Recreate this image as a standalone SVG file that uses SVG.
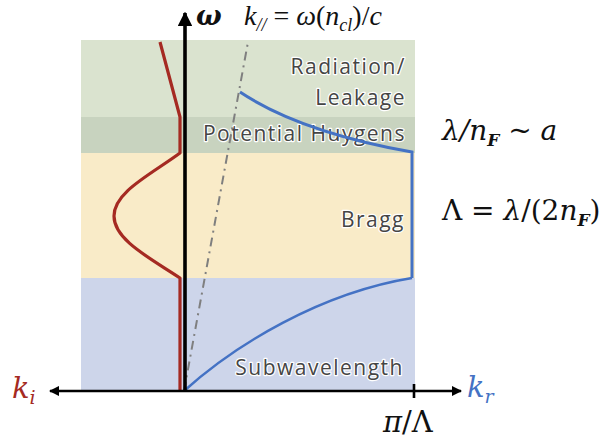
<svg xmlns="http://www.w3.org/2000/svg" width="610" height="444" viewBox="0 0 610 444">
<defs>
<style>
.lbl{font-family:"Open Sans","Liberation Sans",sans-serif;font-size:21px;letter-spacing:1.5px;fill:#454545;stroke:#ffffff;stroke-width:2.4px;paint-order:stroke;stroke-linejoin:round}
.math{font-family:"DejaVu Serif","Liberation Serif",serif;font-style:italic;fill:#111}
.up{font-style:normal}
</style>
<marker id="ah" viewBox="0 0 10 10" refX="9" refY="5" markerWidth="4" markerHeight="4" orient="auto-start-reverse" markerUnits="strokeWidth">
<path d="M0,0 L10,5 L0,10 z" fill="#000"/>
</marker>
</defs>
<rect width="610" height="444" fill="#fff"/>
<g id="bands">
<rect id="band-radiation" x="81" y="40" width="334" height="77" fill="#dae3cf"/>
<rect id="band-huygens" x="81" y="117" width="334" height="36" fill="#c8d3bf"/>
<rect id="band-bragg" x="81" y="153" width="334" height="125" fill="#f9ebc8"/>
<rect id="band-sub" x="81" y="278" width="334" height="112" fill="#cdd5ea"/>
</g>
<g id="labels">
<text class="lbl" x="406" y="74" text-anchor="end">Radiation/</text>
<text class="lbl" x="406" y="105" text-anchor="end">Leakage</text>
<text class="lbl" x="406" y="141" text-anchor="end">Potential Huygens</text>
<text class="lbl" x="405" y="227" text-anchor="end">Bragg</text>
<text class="lbl" x="404" y="375" text-anchor="end">Subwavelength</text>
</g>
<g id="connectors" fill="none">
<path id="light-line" d="M184,391 L248,42" stroke="#7f7f7f" stroke-width="2" stroke-dasharray="9,5,2,5"/>
<path id="ki-curve" d="M160,42 L180,117 L180,153 C150,175 114,192 114,216 C114,240 150,258 180,278 L180,391" stroke="#a52a22" stroke-width="3.2" stroke-linejoin="round"/>
<path id="kr-top" d="M240,92 Q300,132 412,152 L412,278" stroke="#4472c4" stroke-width="3"/>
<path id="kr-bottom" d="M184,391 C235,345 320,293 412,278" stroke="#4472c4" stroke-width="2.5"/>
<line id="omega-axis" x1="185" y1="391" x2="185" y2="13" stroke="#000" stroke-width="3.6" marker-end="url(#ah)"/>
<line id="kr-axis" x1="185" y1="391" x2="461" y2="391" stroke="#000" stroke-width="2.6" marker-end="url(#ah)"/>
<line id="ki-axis" x1="185" y1="391" x2="50" y2="391" stroke="#000" stroke-width="2.6" marker-end="url(#ah)"/>
<line id="tick" x1="414" y1="384" x2="414" y2="398" stroke="#000" stroke-width="2.6"/>
</g>
<g id="math">
<text class="math" x="196" y="25" font-size="27" font-weight="bold">ω</text>
<text class="math" x="244" y="25" font-size="28" style="font-family:'Liberation Serif','DejaVu Serif',serif">k<tspan font-size="18" dy="6">//</tspan><tspan class="up" dy="-6"> = </tspan>ω<tspan class="up">(</tspan>n<tspan font-size="18" dy="6">cl</tspan><tspan class="up" dy="-6">)/</tspan>c</text>
<text class="math" x="442" y="140" font-size="28">λ/n<tspan font-size="17" dy="6" font-weight="bold">F</tspan><tspan class="up" dy="-6"> ~ </tspan>a</text>
<text class="math" x="442" y="220" font-size="28"><tspan class="up">Λ = </tspan>λ<tspan class="up">/(2</tspan>n<tspan font-size="17" dy="6" font-weight="bold">F</tspan><tspan class="up" dy="-6">)</tspan></text>
<text class="math" x="12" y="398" font-size="29" style="fill:#a52a22">k<tspan font-size="19" dy="6">i</tspan></text>
<text class="math" x="467" y="397" font-size="29" style="fill:#4472c4">k<tspan font-size="19" dy="6">r</tspan></text>
<text class="math" x="383" y="432" font-size="29">π<tspan class="up">/Λ</tspan></text>
</g>
</svg>
